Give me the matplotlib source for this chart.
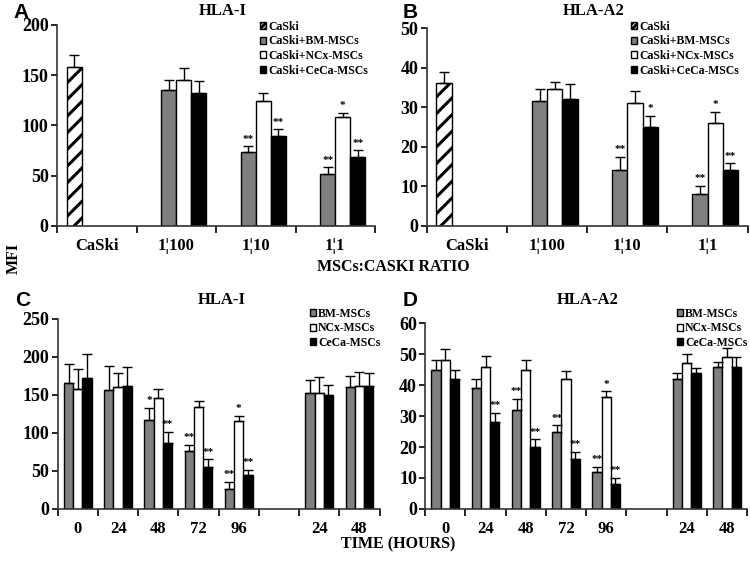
import numpy as np
import matplotlib
matplotlib.use('Agg')
import matplotlib.pyplot as plt
from matplotlib.patches import Patch

plt.rcParams['font.family'] = 'Liberation Serif'
plt.rcParams['font.weight'] = 'bold'
plt.rcParams['hatch.linewidth'] = 2.2

# --- données panneaux A/B (ratio MSCs:CaSki) ---
ratio_labels = ['CaSki', '1\u00a6100', '1\u00a610', '1\u00a61']

caski_a, caski_a_err = 158, 12
bm_a = [135, 73, 52]
bm_a_err = [10, 6, 6]
ncx_a = [145, 124, 108]
ncx_a_err = [12, 8, 4]
ceca_a = [132, 89, 68]
ceca_a_err = [12, 7, 7]
bm_a_stars = ['', '**', '**']
ncx_a_stars = ['', '', '*']
ceca_a_stars = ['', '**', '**']

caski_b, caski_b_err = 36, 3
bm_b = [31.5, 14, 8]
bm_b_err = [3, 3.5, 2]
ncx_b = [34.5, 31, 26]
ncx_b_err = [2, 3, 2.8]
ceca_b = [32, 25, 14]
ceca_b_err = [3.8, 2.8, 1.8]
bm_b_stars = ['', '**', '**']
ncx_b_stars = ['', '', '*']
ceca_b_stars = ['', '*', '**']

# --- données panneaux C/D (temps) ---
time_labels = ['0', '24', '48', '72', '96', '', '24', '48']

bm_c = [165, 156, 117, 76, 26, np.nan, 152, 160]
bm_c_err = [25, 32, 16, 8, 10, 0, 17, 15]
ncx_c = [158, 160, 146, 134, 116, np.nan, 152, 162]
ncx_c_err = [26, 18, 12, 8, 6, 0, 21, 18]
ceca_c = [172, 162, 86, 55, 44, np.nan, 150, 162]
ceca_c_err = [32, 24, 15, 10, 7, 0, 13, 16]
bm_c_stars = ['', '', '*', '**', '**', '', '', '']
ncx_c_stars = ['', '', '', '', '*', '', '', '']
ceca_c_stars = ['', '', '**', '**', '**', '', '', '']

bm_d = [45, 39, 32, 25, 12, np.nan, 42, 46]
bm_d_err = [3, 3, 3.5, 2, 1.5, 0, 2, 1.5]
ncx_d = [48, 46, 45, 42, 36, np.nan, 47, 49]
ncx_d_err = [3.5, 3.5, 3, 2.5, 2, 0, 3, 3]
ceca_d = [42, 28, 20, 16, 8, np.nan, 44, 46]
ceca_d_err = [3, 3, 2.5, 2.5, 2, 0, 1.5, 3]
bm_d_stars = ['', '', '**', '**', '**', '', '', '']
ncx_d_stars = ['', '', '', '', '*', '', '', '']
ceca_d_stars = ['', '**', '**', '**', '**', '', '', '']

GRAY = '#808080'
ekw = dict(ecolor='black', elinewidth=1.0, capsize=3.5, capthick=1.0)


def bars(ax, x, vals, errs, stars, color, hatch=None, label=None, w=0.2):
    vals = np.asarray(vals, dtype=float)
    errs = np.asarray(errs, dtype=float)
    ok = ~np.isnan(vals)
    b = ax.bar(x[ok], vals[ok], w, color=color, edgecolor='black', linewidth=1.0,
               hatch=hatch, label=label, zorder=2)
    ax.errorbar(x[ok], vals[ok], yerr=[np.zeros(ok.sum()), errs[ok]], fmt='none', zorder=3, **ekw)
    for xi, v, e, s in zip(x, vals, errs, stars):
        if s:
            ax.annotate(s, (xi, v + e), xytext=(0, 2), textcoords='offset points',
                        ha='center', va='bottom', fontsize=8, fontweight='bold')
    return b


def style(ax, ncat, labels, ymax, ystep):
    ax.set_xlim(-0.5, ncat - 0.5)
    ax.set_ylim(0, ymax)
    ax.set_yticks(np.arange(0, ymax + 1, ystep))
    ax.tick_params(axis='y', labelsize=13, length=4, width=1.2, pad=2)
    ax.set_xticks(np.arange(-0.5, ncat, 1.0))
    ax.set_xticklabels([])
    ax.tick_params(axis='x', which='major', length=5, width=1.2)
    ax.set_xticks(np.arange(ncat), minor=True)
    ax.set_xticklabels(labels, minor=True)
    ax.tick_params(axis='x', which='minor', length=0, labelsize=12, pad=9)
    for s in ['top', 'right']:
        ax.spines[s].set_visible(False)
    for s in ['left', 'bottom']:
        ax.spines[s].set_linewidth(1.2)
        ax.spines[s].set_color('#333333')


fig = plt.figure(figsize=(7.5, 5.63), dpi=100)

# panneaux A et B
for pos, caski, caski_err, bm, bme, ncx, ncxe, ce, cee, sb, sn, sc, ymax, ystep, title, letter, lx, tx in [
        ([0.076, 0.599, 0.424, 0.357], caski_a, caski_a_err, bm_a, bm_a_err, ncx_a, ncx_a_err,
         ceca_a, ceca_a_err, bm_a_stars, ncx_a_stars, ceca_a_stars, 200, 50, 'HLA-I', 'A', 13, 255),
        ([0.569, 0.599, 0.428, 0.351], caski_b, caski_b_err, bm_b, bm_b_err, ncx_b, ncx_b_err,
         ceca_b, ceca_b_err, bm_b_stars, ncx_b_stars, ceca_b_stars, 50, 10, 'HLA-A2', 'B', 403, 626)]:
    ax = fig.add_axes(pos)
    w = 0.19
    x = np.arange(4)
    ax.bar([0 - 1.5 * w], [caski], w, color='white', edgecolor='black', linewidth=1.0,
           hatch='//', zorder=2)
    ax.errorbar([0 - 1.5 * w], [caski], yerr=[[0], [caski_err]], fmt='none', zorder=3, **ekw)
    # poignée de légende hachurée plus dense pour rester visible en petit
    h1 = Patch(facecolor='white', edgecolor='black', hatch='//////', label='CaSki')
    xs = x[1:].astype(float)
    h2 = bars(ax, xs - 0.5 * w, bm, bme, sb, GRAY, label='CaSki+BM-MSCs', w=w)
    h3 = bars(ax, xs + 0.5 * w, ncx, ncxe, sn, 'white', label='CaSki+NCx-MSCs', w=w)
    h4 = bars(ax, xs + 1.5 * w, ce, cee, sc, 'black', label='CaSki+CeCa-MSCs', w=w)
    style(ax, 4, ratio_labels, ymax, ystep)
    fig.text((pos[0] + 0.52 * pos[2]), 1 - 11 / 563, title, fontsize=12, fontweight='bold',
             ha='center', va='center')
    ax.legend(handles=[h1, h2, h3, h4], loc='upper left',
              bbox_to_anchor=(tx / 750, 1 - 16 / 563), bbox_transform=fig.transFigure,
              frameon=False, fontsize=8.5, handlelength=0.55, handleheight=0.55,
              handletextpad=0.15, labelspacing=0.22, borderaxespad=0)
    fig.text(lx / 750, 1 - 12 / 563, letter, fontsize=15, fontweight='bold',
             family='Liberation Sans', va='center')

# panneaux C et D
for pos, bm, bme, ncx, ncxe, ce, cee, sb, sn, sc, ymax, ystep, title, letter, tx, lx, gx in [
        ([0.077, 0.096, 0.429, 0.338], bm_c, bm_c_err, ncx_c, ncx_c_err, ceca_c, ceca_c_err,
         bm_c_stars, ncx_c_stars, ceca_c_stars, 250, 50, 'HLA-I', 'C', 0.296, 15, 305),
        ([0.567, 0.096, 0.429, 0.330], bm_d, bm_d_err, ncx_d, ncx_d_err, ceca_d, ceca_d_err,
         bm_d_stars, ncx_d_stars, ceca_d_stars, 60, 10, 'HLA-A2', 'D', 0.784, 403, 672)]:
    ax = fig.add_axes(pos)
    w = 0.23
    x = np.arange(8).astype(float)
    h2 = bars(ax, x - w, bm, bme, sb, GRAY, label='BM-MSCs', w=w)
    h3 = bars(ax, x, ncx, ncxe, sn, 'white', label='NCx-MSCs', w=w)
    h4 = bars(ax, x + w, ce, cee, sc, 'black', label='CeCa-MSCs', w=w)
    style(ax, 8, time_labels, ymax, ystep)
    fig.text(tx, 1 - 300 / 563, title, fontsize=12, fontweight='bold', ha='center', va='center')
    ax.legend(handles=[h2, h3, h4], loc='upper left',
              bbox_to_anchor=(gx / 750, 1 - 303 / 563), bbox_transform=fig.transFigure,
              frameon=False, fontsize=8.5, handlelength=0.55, handleheight=0.55,
              handletextpad=0.15, labelspacing=0.22, borderaxespad=0)
    fig.text(lx / 750, 1 - 301 / 563, letter, fontsize=15, fontweight='bold',
             family='Liberation Sans', va='center')

fig.text(0.018, 1 - 258 / 563, 'MFI', rotation=90, fontsize=11.5, fontweight='bold',
         ha='center', va='center')
fig.text(393 / 750, 1 - 267 / 563, 'MSCs:CASKI RATIO', fontsize=11.5, fontweight='bold',
         ha='center', va='center')
fig.text(398 / 750, 1 - 544 / 563, 'TIME (HOURS)', fontsize=11.5, fontweight='bold',
         ha='center', va='center')

fig.savefig('out.png', dpi=100)
